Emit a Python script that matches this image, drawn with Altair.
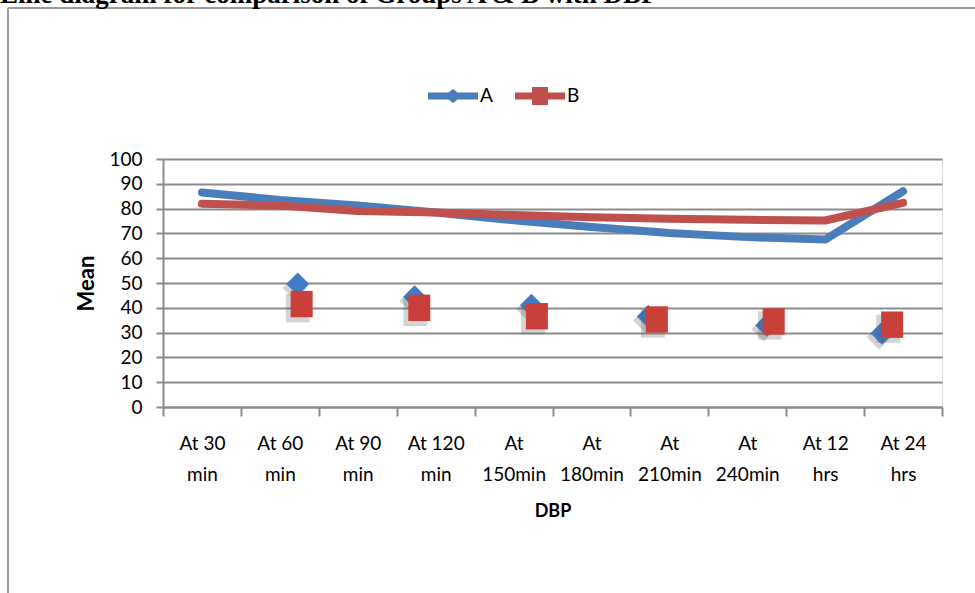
import altair as alt
import pandas as pd

# ---- data ----
title_text = "Line diagram for comparison of Groups A & B with DBP"
categories = ["At 30 min", "At 60 min", "At 90 min", "At 120 min", "At 150min",
              "At 180min", "At 210min", "At 240min", "At 12 hrs", "At 24 hrs"]
line_a = [86.5, 83.5, 81.3, 78.4, 75.3, 72.6, 70.2, 68.5, 67.5, 87.0]
line_b = [82.0, 81.2, 79.0, 78.4, 77.4, 76.5, 75.9, 75.5, 75.2, 82.3]

marker_a_pos = [1.73, 3.23, 4.73, 6.23, 7.75, 9.23]
marker_a_val = [49.6, 44.5, 41.0, 36.5, 33.0, 29.7]
marker_b_pos = [1.78, 3.29, 4.80, 6.34, 7.84, 9.36]
marker_b_val = [41.5, 40.0, 36.6, 35.3, 34.5, 33.2]

series = ["A", "B"]
y_ticks = list(range(0, 101, 10))

BLUE = "#4a7ebb"
RED = "#c0504d"
DIAMOND = "#3f7cc6"
SQUARE = "#c9403b"
GRID = "#8c8c8c"
FONT = "Lato"
SQUARE_PATH = "M-1,-1.2L1,-1.2L1,1.2L-1,1.2Z"

lines = pd.DataFrame({
    "time": categories * 2,
    "series": ["A"] * len(categories) + ["B"] * len(categories),
    "value": line_a + line_b,
})
markers = pd.DataFrame({
    "pos": marker_a_pos + marker_b_pos,
    "series": ["A"] * len(marker_a_pos) + ["B"] * len(marker_b_pos),
    "value": marker_a_val + marker_b_val,
})
one = pd.DataFrame({"title": [title_text]})

y_enc = alt.Y("value:Q", scale=alt.Scale(domain=[0, 100], nice=False),
              axis=alt.Axis(values=y_ticks, title="Mean", grid=True,
                            gridColor=GRID, gridWidth=2,
                            domainColor=GRID, domainWidth=2,
                            tickColor=GRID, tickWidth=2, tickSize=7,
                            labelFont=FONT, labelFontSize=19, labelColor="black",
                            labelPadding=14,
                            titleFont=FONT, titleFontSize=22, titleFontWeight="bold",
                            titleColor="black", titlePadding=10))

x_band = alt.Scale(type="band", domain=categories, paddingInner=0, paddingOuter=0)

x_axis = alt.Axis(title="DBP", tickBand="extent", grid=False, labelAngle=0,
                  domainColor=GRID, domainWidth=2,
                  tickColor=GRID, tickWidth=2, tickSize=9,
                  labelFont=FONT, labelFontSize=19, labelColor="black",
                  labelLineHeight=31, labelPadding=18, labelOverlap=False,
                  labelExpr="[slice(datum.label, 0, lastindexof(datum.label, ' ')), "
                            "slice(datum.label, lastindexof(datum.label, ' ') + 1)]",
                  titleFont=FONT, titleFontSize=18, titleFontWeight="bold",
                  titleColor="black", titlePadding=18)

line_a_layer = alt.Chart(lines).transform_filter("datum.series == 'A'").mark_line(
    strokeWidth=8, strokeCap="round", strokeJoin="round", color=BLUE
).encode(x=alt.X("time:N", sort=categories, scale=x_band, axis=x_axis), y=y_enc)

line_b_layer = alt.Chart(lines).transform_filter("datum.series == 'B'").mark_line(
    strokeWidth=8, strokeCap="round", strokeJoin="round", color=RED
).encode(x=alt.X("time:N", sort=categories, scale=x_band, axis=None), y=y_enc)

x_q = alt.X("pos:Q", scale=alt.Scale(domain=[0, 10], nice=False, zero=False), axis=None)

diamond_shadow = alt.Chart(markers).transform_filter("datum.series == 'A'").mark_point(
    shape="diamond", filled=True, size=600, opacity=0.25, color="#555555", strokeWidth=0,
    xOffset=-3, yOffset=4
).encode(x=x_q, y=y_enc)

diamonds = alt.Chart(markers).transform_filter("datum.series == 'A'").mark_point(
    shape="diamond", filled=True, size=529, opacity=1, color=DIAMOND, strokeWidth=0
).encode(x=x_q, y=y_enc)

square_shadow = alt.Chart(markers).transform_filter("datum.series == 'B'").mark_point(
    shape=SQUARE_PATH, filled=True, size=560, opacity=0.25, color="#555555",
    strokeWidth=0, xOffset=-4, yOffset=4
).encode(x=x_q, y=y_enc)

squares = alt.Chart(markers).transform_filter("datum.series == 'B'").mark_point(
    shape=SQUARE_PATH, filled=True, size=484, opacity=1,
    color=SQUARE, strokeWidth=0
).encode(x=x_q, y=y_enc)

# legend (line + marker symbols), driven by an explicit scale domain
path_a = ("M-2.5,-0.35L-0.45,-0.35L0,-0.7L0.45,-0.35L2.5,-0.35L2.5,0.35"
          "L0.45,0.35L0,0.7L-0.45,0.35L-2.5,0.35Z")
path_b = ("M-2.5,-0.35L-0.8,-0.35L-0.8,-0.9L0.8,-0.9L0.8,-0.35L2.5,-0.35L2.5,0.35"
          "L0.8,0.35L0.8,0.9L-0.8,0.9L-0.8,0.35L-2.5,0.35Z")
leg = alt.Legend(title=None, orient="none", legendX=280, legendY=-73,
                 direction="horizontal", labelFont=FONT, labelFontSize=19,
                 labelColor="black", labelOffset=17, columnPadding=22,
                 symbolSize=400, symbolStrokeWidth=0, symbolOpacity=1)
legend_layer = alt.Chart(markers).transform_filter("false").mark_point(
    filled=True, size=400, opacity=1, strokeWidth=0
).encode(
    color=alt.Color("series:N", scale=alt.Scale(domain=series, range=[BLUE, RED]), legend=leg),
    shape=alt.Shape("series:N", scale=alt.Scale(domain=series, range=[path_a, path_b]), legend=leg),
)

# outer frame (left and top edges of the figure box) and the page title above it
frame_left = alt.Chart(one).mark_rule(color="#9a9a9a", strokeWidth=2).encode(
    x=alt.value(-155), y=alt.value(-151), y2=alt.value(440))
frame_top = alt.Chart(one).mark_rule(color="#9a9a9a", strokeWidth=2).encode(
    x=alt.value(-155), x2=alt.value(820), y=alt.value(-151))
title_layer = alt.Chart(one).mark_text(
    font="Liberation Serif", fontSize=27, fontWeight="bold", color="black",
    align="left", baseline="alphabetic"
).encode(text="title:N", x=alt.value(-163), y=alt.value(-156.5))

chart = alt.layer(
    frame_left, frame_top, title_layer, line_a_layer, line_b_layer,
    diamond_shadow, diamonds, square_shadow, squares, legend_layer
).resolve_scale(x="independent").properties(
    width=779, height=248,
    padding={"left": 163, "top": 159, "right": 33, "bottom": 186},
    autosize=alt.AutoSizeParams(type="none"),
).configure_view(strokeWidth=0).configure(background="white")

chart.save("out.html", embed_options={"renderer": "svg", "actions": False})
